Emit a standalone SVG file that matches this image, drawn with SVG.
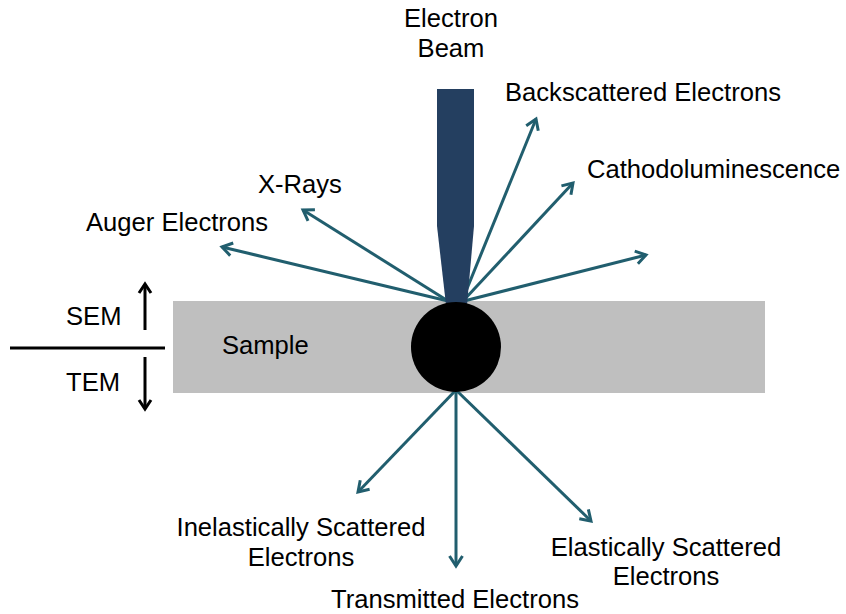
<svg xmlns="http://www.w3.org/2000/svg" width="846" height="614" viewBox="0 0 846 614">
<style>
text{font-family:"Liberation Sans",Arial,sans-serif;font-size:25.6px;fill:#000}
.c{stroke:#215e6e;stroke-width:3;fill:none;marker-end:url(#a)}
.k{stroke:#000;stroke-width:3;fill:none;marker-end:url(#b)}
</style>
<defs>
<marker id="a" viewBox="0 0 16 16" refX="13" refY="8" markerWidth="16" markerHeight="16" markerUnits="userSpaceOnUse" orient="auto">
<path d="M3,1.5 L13,8 L3,14.5" fill="none" stroke="#215e6e" stroke-width="3"/>
</marker>
<marker id="b" viewBox="0 0 16 16" refX="13" refY="8" markerWidth="16" markerHeight="16" markerUnits="userSpaceOnUse" orient="auto">
<path d="M4,2 L13,8 L4,14" fill="none" stroke="#000" stroke-width="3"/>
</marker>
</defs>
<g id="sample"><rect x="173" y="301" width="592" height="92" fill="#bfbfbf"/><text x="222" y="354">Sample</text></g>
<g id="connectors">
<line class="c" x1="462" y1="301" x2="536" y2="119"/>
<line class="c" x1="463" y1="301" x2="573" y2="183"/>
<line class="c" x1="464" y1="301" x2="646" y2="255"/>
<line class="c" x1="448" y1="301" x2="303" y2="210"/>
<line class="c" x1="448" y1="301" x2="222" y2="247"/>
<line class="c" x1="456" y1="390" x2="358" y2="492"/>
<line class="c" x1="456" y1="390" x2="456" y2="566"/>
<line class="c" x1="456" y1="390" x2="591" y2="521"/>
</g>
<g id="beam"><polygon points="437,89 474,89 474,226 467,305 446,305 437,226" fill="#243f60"/><text x="451" y="27" text-anchor="middle">Electron</text><text x="451" y="57" text-anchor="middle">Beam</text></g>
<g id="spot"><circle cx="456" cy="347" r="45" fill="#000"/></g>
<g id="backscattered"><text x="505" y="101">Backscattered Electrons</text></g>
<g id="cathodo"><text x="587" y="178">Cathodoluminescence</text></g>
<g id="xrays"><text x="258" y="193">X-Rays</text></g>
<g id="auger"><text x="86" y="231">Auger Electrons</text></g>
<g id="inelastic"><text x="301" y="536" text-anchor="middle">Inelastically Scattered</text><text x="301" y="566" text-anchor="middle">Electrons</text></g>
<g id="transmitted"><text x="455" y="608" text-anchor="middle">Transmitted Electrons</text></g>
<g id="elastic"><text x="666" y="556" text-anchor="middle">Elastically Scattered</text><text x="666" y="585" text-anchor="middle">Electrons</text></g>
<g id="sem-tem">
<line x1="10" y1="348" x2="165" y2="348" stroke="#000" stroke-width="3"/>
<line class="k" x1="145" y1="330" x2="145" y2="284"/>
<line class="k" x1="145" y1="357" x2="145" y2="409"/>
<text x="66" y="325">SEM</text>
<text x="66" y="391">TEM</text>
</g>
</svg>
